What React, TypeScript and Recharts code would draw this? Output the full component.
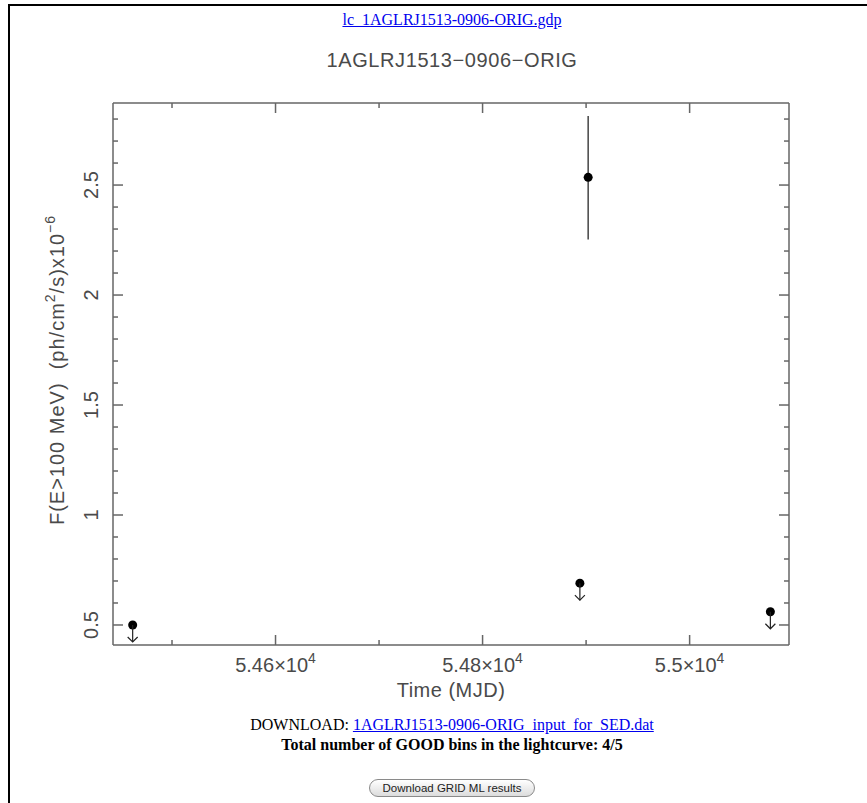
import React from 'react';
import { ComposedChart, Scatter, XAxis, YAxis, ErrorBar, Label } from 'recharts';

// light-curve bins (MJD, flux in 1e-6 ph/cm2/s)
const ulTimes = [54462, 54894, 55078];
const ulFlux = [0.5, 0.69, 0.56];
const detTimes = [54902];
const detFlux = [2.535];
const detErrLow = [0.282];
const detErrHigh = [0.279];

const xDomain = [54443, 55096];
const yDomain = [0.409, 2.873];
const xTicks = [54500, 54600, 54700, 54800, 54900, 55000];
const xMajor = [54600, 54800, 55000];
const xMantissa = ['5.46', '5.48', '5.5'];
const yTicks = [0.5, 0.6, 0.7, 0.8, 0.9, 1, 1.1, 1.2, 1.3, 1.4, 1.5, 1.6, 1.7, 1.8, 1.9, 2, 2.1, 2.2, 2.3, 2.4, 2.5, 2.6, 2.7, 2.8];

const upperLimits = ulTimes.map((t, i) => ({ t, flux: ulFlux[i] }));
const detections = detTimes.map((t, i) => ({ t, flux: detFlux[i], err: [detErrLow[i], detErrHigh[i]] }));

const AXIS = '#666';
const TXT = '#4a4a4a';
const FONT = '"Liberation Sans", Arial, sans-serif';

const isYMajor = (v: number) => Math.abs(v * 2 - Math.round(v * 2)) < 1e-6;

const BottomTick = (props: any) => {
  const { x, y, payload } = props;
  const idx = xMajor.indexOf(payload.value);
  const len = idx >= 0 ? 10 : 5;
  return (
    <g>
      <line x1={x} x2={x} y1={y} y2={y - len} stroke={AXIS} strokeWidth={1.5} />
      {idx >= 0 && (
        <text x={x} y={y + 27} textAnchor="middle" fill={TXT} fontSize={20} fontFamily={FONT}>
          {xMantissa[idx]}×10
          <tspan dy={-9} fontSize={14}>4</tspan>
        </text>
      )}
    </g>
  );
};

const TopTick = (props: any) => {
  const { x, y, payload } = props;
  const len = xMajor.includes(payload.value) ? 10 : 5;
  return <line x1={x} x2={x} y1={y} y2={y + len} stroke={AXIS} strokeWidth={1.5} />;
};

const LeftTick = (props: any) => {
  const { x, y, payload } = props;
  const major = isYMajor(payload.value);
  return (
    <g>
      <line x1={x} x2={x + (major ? 10 : 5)} y1={y} y2={y} stroke={AXIS} strokeWidth={1.5} />
      {major && (
        <text
          x={x - 15}
          y={y}
          transform={`rotate(-90, ${x - 15}, ${y})`}
          textAnchor="middle"
          fill={TXT}
          fontSize={20}
          fontFamily={FONT}
        >
          {String(payload.value)}
        </text>
      )}
    </g>
  );
};

const RightTick = (props: any) => {
  const { x, y, payload } = props;
  const len = isYMajor(payload.value) ? 10 : 5;
  return <line x1={x} x2={x - len} y1={y} y2={y} stroke={AXIS} strokeWidth={1.5} />;
};

const UpperLimit = (props: any) => {
  const { cx, cy } = props;
  return (
    <g>
      <circle cx={cx} cy={cy} r={4.5} fill="#000" />
      <line x1={cx} x2={cx} y1={cy} y2={cy + 17} stroke="#222" strokeWidth={1.2} />
      <polyline points={`${cx - 5},${cy + 12} ${cx},${cy + 17} ${cx + 5},${cy + 12}`} fill="none" stroke="#222" strokeWidth={1.2} />
    </g>
  );
};

const Dot = (props: any) => <circle cx={props.cx} cy={props.cy} r={4.5} fill="#000" />;

const XTitle = (props: any) => {
  const { x, y, width } = props.viewBox;
  return (
    <text x={x + width / 2} y={y + 52} textAnchor="middle" fill={TXT} fontSize={20} fontFamily={FONT} letterSpacing={0.5}>
      Time (MJD)
    </text>
  );
};

const YTitle = () => {
  const cx = 64;
  const cy = 370;
  return (
    <text
      x={cx}
      y={cy}
      transform={`rotate(-90, ${cx}, ${cy})`}
      textAnchor="middle"
      fill={TXT}
      fontSize={20}
      fontFamily={FONT}
      letterSpacing={1}
      style={{ whiteSpace: 'pre' }}
    >
      {'F(E>100 MeV)  (ph/cm'}
      <tspan dy={-9} fontSize={14}>2</tspan>
      <tspan dy={9}>/s)x10</tspan>
      <tspan dy={-9} fontSize={14}>−6</tspan>
    </text>
  );
};

const link: React.CSSProperties = { color: '#0000ee', textDecoration: 'underline' };
const serif = '"Liberation Serif", serif';

export default function App() {
  return (
    <div style={{ position: 'absolute', left: 0, top: 0, width: 867, height: 803, overflow: 'hidden', background: '#fff' }}>
      <div style={{ position: 'absolute', left: 8, top: 4, width: 2, height: 800, background: '#000' }} />
      <div style={{ position: 'absolute', left: 8, top: 4, width: 860, height: 2, background: '#000' }} />

      <ComposedChart width={867} height={803} margin={{ top: 102, right: 77, bottom: 98, left: 53 }} style={{ position: 'absolute', left: 0, top: 0 }}>
        <XAxis xAxisId="b" dataKey="t" type="number" domain={xDomain} allowDataOverflow ticks={xTicks} interval={0}
          tickSize={0} tickMargin={0} tickLine={false} tick={<BottomTick />} axisLine={{ stroke: AXIS, strokeWidth: 1.5 }} height={60}>
          <Label content={<XTitle />} />
        </XAxis>
        <XAxis xAxisId="t" orientation="top" dataKey="t" type="number" domain={xDomain} allowDataOverflow ticks={xTicks} interval={0}
          tickSize={0} tickMargin={0} tickLine={false} tick={<TopTick />} axisLine={{ stroke: AXIS, strokeWidth: 1.5 }} height={1} />
        <YAxis yAxisId="l" type="number" domain={yDomain} allowDataOverflow ticks={yTicks} interval={0}
          tickSize={0} tickMargin={0} tickLine={false} tick={<LeftTick />} axisLine={{ stroke: AXIS, strokeWidth: 1.5 }} width={60}>
          <Label content={<YTitle />} />
        </YAxis>
        <YAxis yAxisId="r" orientation="right" type="number" domain={yDomain} allowDataOverflow ticks={yTicks} interval={0}
          tickSize={0} tickMargin={0} tickLine={false} tick={<RightTick />} axisLine={{ stroke: AXIS, strokeWidth: 1.5 }} width={1} />
        <Scatter xAxisId="b" yAxisId="l" data={upperLimits} dataKey="flux" shape={<UpperLimit />} isAnimationActive={false} />
        <Scatter xAxisId="b" yAxisId="l" data={detections} dataKey="flux" shape={<Dot />} isAnimationActive={false}>
          <ErrorBar dataKey="err" direction="y" width={0} stroke="#444" strokeWidth={1.5} />
        </Scatter>
      </ComposedChart>

      <div style={{ position: 'absolute', left: 0, width: 904, top: 11, lineHeight: '18px', textAlign: 'center', fontFamily: serif, fontSize: 16 }}>
        <span style={link}>lc_1AGLRJ1513-0906-ORIG.gdp</span>
      </div>
      <div style={{ position: 'absolute', left: 0, width: 904, top: 48, lineHeight: '24px', textAlign: 'center', fontFamily: FONT, fontSize: 20, color: TXT, letterSpacing: 0.6 }}>
        1AGLRJ1513−0906−ORIG
      </div>

      <div style={{ position: 'absolute', left: 0, width: 904, top: 716, lineHeight: '18px', textAlign: 'center', fontFamily: serif, fontSize: 16 }}>
        DOWNLOAD: <span style={link}>1AGLRJ1513-0906-ORIG_input_for_SED.dat</span>
      </div>
      <div style={{ position: 'absolute', left: 0, width: 904, top: 736, lineHeight: '18px', textAlign: 'center', fontFamily: serif, fontSize: 16, fontWeight: 'bold' }}>
        Total number of GOOD bins in the lightcurve: 4/5
      </div>
      <div style={{ position: 'absolute', left: 369, top: 779, width: 166, height: 18, boxSizing: 'border-box', borderRadius: 9, border: '1px solid #8a8a8a',
        background: 'linear-gradient(#ffffff, #dcdcdc)', fontFamily: FONT, fontSize: 11.5, lineHeight: '16px', textAlign: 'center', color: '#222' }}>
        Download GRID ML results
      </div>
    </div>
  );
}
